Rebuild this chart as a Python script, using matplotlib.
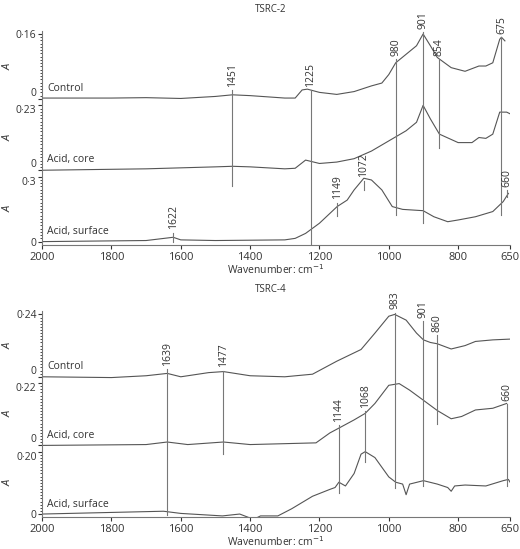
import numpy as np
import matplotlib.pyplot as plt

plt.rcParams['font.family'] = ['Open Sans', 'DejaVu Sans']

# TSRC-2 spectra (wavenumber, absorbance)
t2_control_x = [2000, 1800, 1700, 1600, 1500, 1451, 1400, 1300, 1270, 1250, 1235, 1200, 1150, 1100, 1050, 1020, 1000, 980, 950, 920, 901, 880, 860, 820, 780, 740, 720, 700, 680, 675, 665]
t2_control_y = [0.002, 0.002, 0.003, 0.001, 0.006, 0.010, 0.008, 0.002, 0.002, 0.022, 0.024, 0.016, 0.011, 0.018, 0.032, 0.039, 0.060, 0.089, 0.110, 0.131, 0.160, 0.131, 0.102, 0.077, 0.068, 0.081, 0.081, 0.089, 0.147, 0.152, 0.143]
t2_core_x = [2000, 1700, 1500, 1451, 1400, 1300, 1270, 1240, 1200, 1150, 1100, 1050, 1000, 950, 920, 901, 880, 854, 800, 760, 740, 720, 700, 680, 660, 650]
t2_core_y = [0.0, 0.005, 0.012, 0.014, 0.012, 0.005, 0.007, 0.036, 0.024, 0.029, 0.041, 0.068, 0.104, 0.140, 0.170, 0.230, 0.182, 0.128, 0.098, 0.098, 0.116, 0.113, 0.128, 0.206, 0.206, 0.200]
t2_surf_x = [2000, 1700, 1622, 1600, 1500, 1300, 1270, 1240, 1200, 1149, 1120, 1100, 1072, 1050, 1020, 990, 960, 901, 870, 830, 800, 750, 700, 670, 655]
t2_surf_y = [0.0, 0.005, 0.020, 0.008, 0.005, 0.008, 0.015, 0.038, 0.085, 0.162, 0.192, 0.239, 0.293, 0.285, 0.239, 0.162, 0.149, 0.143, 0.115, 0.092, 0.100, 0.115, 0.139, 0.185, 0.223]

# TSRC-4 spectra
t4_control_x = [2000, 1800, 1700, 1639, 1600, 1520, 1477, 1400, 1300, 1220, 1150, 1080, 1040, 1000, 983, 950, 920, 900, 880, 860, 840, 820, 780, 750, 700, 650]
t4_control_y = [0.0, -0.003, 0.004, 0.013, 0.0, 0.016, 0.020, 0.004, 0.0, 0.010, 0.060, 0.105, 0.168, 0.233, 0.240, 0.218, 0.168, 0.142, 0.132, 0.127, 0.117, 0.107, 0.120, 0.136, 0.142, 0.145]
t4_core_x = [2000, 1700, 1639, 1580, 1477, 1400, 1210, 1170, 1144, 1100, 1068, 1040, 1000, 970, 940, 901, 860, 820, 790, 750, 700, 660]
t4_core_y = [0.0, 0.003, 0.012, 0.003, 0.012, 0.003, 0.009, 0.044, 0.061, 0.090, 0.113, 0.148, 0.212, 0.218, 0.195, 0.160, 0.123, 0.094, 0.102, 0.125, 0.131, 0.148]
t4_surf_x = [2000, 1650, 1600, 1480, 1430, 1390, 1370, 1320, 1280, 1220, 1170, 1155, 1144, 1125, 1100, 1080, 1068, 1040, 1000, 980, 960, 950, 940, 900, 860, 830, 820, 810, 780, 720, 670, 655, 650]
t4_surf_y = [0.0, 0.009, 0.002, -0.006, 0.0, -0.017, -0.006, -0.006, 0.017, 0.057, 0.079, 0.085, 0.102, 0.090, 0.130, 0.192, 0.200, 0.181, 0.119, 0.102, 0.096, 0.062, 0.096, 0.107, 0.096, 0.085, 0.073, 0.090, 0.093, 0.090, 0.107, 0.111, 0.102]

labels = ["Control", "Acid, core", "Acid, surface"]
t2_max = [0.16, 0.23, 0.3]
t4_max = [0.24, 0.22, 0.20]

# marker lines: wavenumber, y from, y to (stacked band units)
t2_marks = [(1451, 0.86, 2.34), (1225, -0.05, 2.34), (980, 0.41, 2.81), (901, 0.29, 3.23),
            (854, 1.44, 2.81), (675, 0.41, 3.15), (1149, 0.40, 0.60), (1072, 0.79, 0.94),
            (1622, 0.0, 0.14), (660, 0.68, 0.79)]
t4_marks = [(1639, -0.02, 2.33), (1477, 0.96, 2.30), (983, 0.41, 3.23), (901, 0.45, 3.10),
            (860, 1.45, 2.87), (1144, 0.33, 1.42), (1068, 0.84, 1.65), (660, 0.45, 1.76)]

fig = plt.figure(figsize=(5.2, 5.49), dpi=100)
gap = 1.1


def fmt(v):
    s = ('%.2f' % v).replace('.', '·')
    return '0·3' if s == '0·30' else s


def panel(rect, title, title_y, data, maxes, marks):
    ax = fig.add_axes(rect)
    for i, (x, y) in enumerate(data):
        off = (2 - i) * gap
        ax.plot(x, off + np.array(y) / maxes[i], color='#555555', lw=0.8)
        ax.text(1985, off + 0.12, labels[i], fontsize=7.5, color='#333333')
        ax.text(-0.085, (off + 0.5 + 0.05) / 3.3, 'A', transform=ax.transAxes, rotation=90,
                fontsize=8, style='italic', va='center', color='#333333')
    for w, y0, y1 in marks:
        ax.plot([w, w], [y0, y1], color='#777777', lw=0.8)
        ax.text(w, y1 + 0.05, str(w), rotation=90, ha='center', va='bottom', fontsize=7.5, color='#333333')
    ticks, tl = [], []
    for i in range(3):
        off = (2 - i) * gap
        ticks += [off, off + 1]
        tl += ['0', fmt(maxes[i])]
    ax.set_yticks(ticks)
    ax.set_yticklabels(tl, fontsize=7.5)
    for k, lab in enumerate(ax.get_yticklabels()):
        if k in (0, 2):
            lab.set_va('bottom')
        elif k in (3, 5):
            lab.set_va('top')
    minor = []
    for i in range(3):
        off = (2 - i) * gap
        minor += list(off + np.arange(0, 1.0, 0.05))
    ax.set_yticks(minor, minor=True)
    ax.tick_params(axis='y', which='minor', length=1.5, width=0.5)
    ax.tick_params(axis='y', which='major', length=3, pad=1, colors='#333333')
    ax.set_xlim(2000, 650)
    ax.set_ylim(-0.05, 3.25)
    ax.set_xticks([2000, 1800, 1600, 1400, 1200, 1000, 800, 650])
    ax.tick_params(axis='x', labelsize=8, colors='#333333', length=3, pad=2)
    ax.set_xlabel('Wavenumber: cm$^{-1}$', fontsize=7.5, labelpad=0, color='#333333')
    for s in ['top', 'right']:
        ax.spines[s].set_visible(False)
    for s in ['left', 'bottom']:
        ax.spines[s].set_color('#777777')
    fig.text(0.52, title_y, title, fontsize=7, ha='center', va='center', color='#333333')
    return ax


panel([0.081, 0.554, 0.9, 0.39], 'TSRC-2', 1 - 9 / 549,
      [(t2_control_x, t2_control_y), (t2_core_x, t2_core_y), (t2_surf_x, t2_surf_y)], t2_max, t2_marks)
panel([0.081, 0.058, 0.9, 0.375], 'TSRC-4', 1 - 290 / 549,
      [(t4_control_x, t4_control_y), (t4_core_x, t4_core_y), (t4_surf_x, t4_surf_y)], t4_max, t4_marks)

fig.savefig('out.png', dpi=100)
